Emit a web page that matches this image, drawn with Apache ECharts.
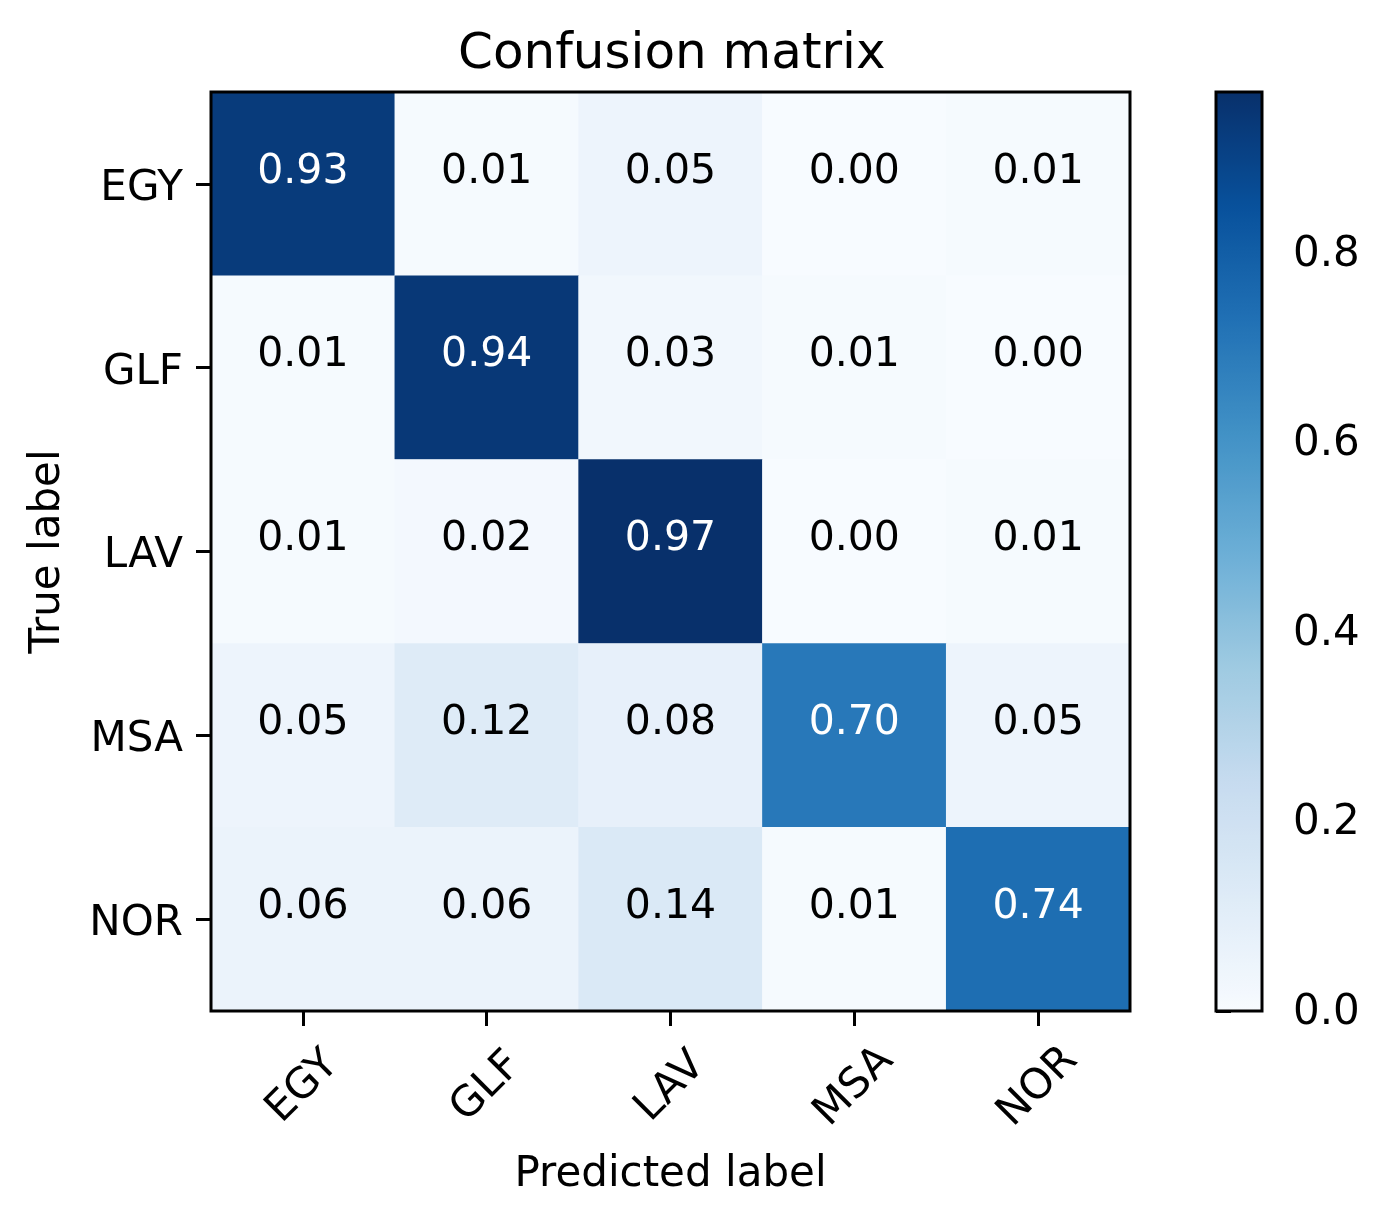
<!DOCTYPE html>
<html>
<head>
<meta charset="utf-8">
<title>Confusion matrix</title>
<script src="https://cdn.jsdelivr.net/npm/echarts@6/dist/echarts.min.js"></script>
<style>
  html, body { margin: 0; padding: 0; background: #fff; }
  #chart { width: 1387px; height: 1225px; }
</style>
</head>
<body>
<div id="chart"></div>
<script>
// class labels (same order on both axes)
const classes = ['EGY', 'GLF', 'LAV', 'MSA', 'NOR']

// normalized confusion matrix, one row per true label
const egyRow = [0.93, 0.01, 0.05, 0.00, 0.01]
const glfRow = [0.01, 0.94, 0.03, 0.01, 0.00]
const lavRow = [0.01, 0.02, 0.97, 0.00, 0.01]
const msaRow = [0.05, 0.12, 0.08, 0.70, 0.05]
const norRow = [0.06, 0.06, 0.14, 0.01, 0.74]
const rows = [egyRow, glfRow, lavRow, msaRow, norRow]

// colorbar range and ticks
const cbMin = 0
const cbMax = 0.97
const cbTicks = [0, 0.2, 0.4, 0.6, 0.8]

// matplotlib "Blues"
const blues = ['#f7fbff', '#deebf7', '#c6dbef', '#9ecae1', '#6baed6',
  '#4292c6', '#2171b5', '#08519c', '#08306b']

const FONT = 'DejaVu Sans'
const thresh = cbMax / 2

const cells = []
rows.forEach((row, i) => {
  row.forEach((v, j) => {
    cells.push({
      value: [j, i, v],
      label: { color: v > thresh ? '#ffffff' : '#000000' }
    })
  })
})

const chart = echarts.init(document.getElementById('chart'))

const option = {
  backgroundColor: '#ffffff',
  animation: false,
  title: {
    text: 'Confusion matrix',
    left: 453,
    top: 25,
    textStyle: { fontFamily: FONT, fontSize: 50, fontWeight: 'normal', color: '#000' }
  },
  grid: [
    {
      left: 211, top: 92, width: 919, height: 919,
      show: true, z: 10, borderColor: '#000', borderWidth: 3,
      backgroundColor: 'transparent'
    },
    {
      left: 1216, top: 92, width: 46, height: 919,
      show: true, z: 10, borderColor: '#000', borderWidth: 3,
      backgroundColor: 'transparent'
    }
  ],
  xAxis: [
    {
      type: 'category',
      gridIndex: 0,
      data: classes,
      position: 'bottom',
      name: 'Predicted label',
      nameLocation: 'middle',
      nameGap: 143,
      nameTextStyle: { fontFamily: FONT, fontSize: 42, color: '#000' },
      axisLine: { show: false },
      axisTick: { show: true, alignWithLabel: true, length: 15, lineStyle: { color: '#000', width: 3 } },
      axisLabel: {
        interval: 0,
        rotate: 45,
        align: 'center',
        verticalAlign: 'middle',
        margin: 76,
        fontFamily: FONT,
        fontSize: 42,
        color: '#000'
      },
      splitLine: { show: false }
    },
    {
      type: 'value',
      gridIndex: 1,
      show: false
    }
  ],
  yAxis: [
    {
      type: 'category',
      gridIndex: 0,
      data: classes,
      inverse: true,
      name: 'True label',
      nameLocation: 'middle',
      nameGap: 142,
      nameRotate: 90,
      nameTextStyle: { fontFamily: FONT, fontSize: 42, color: '#000' },
      axisLine: { show: false },
      axisTick: { show: true, alignWithLabel: true, length: 15, lineStyle: { color: '#000', width: 3 } },
      axisLabel: {
        margin: 28,
        formatter: v => '{t|' + v + '}',
        rich: {
          t: { padding: [10, 0, 0, 0], fontFamily: FONT, fontSize: 42, color: '#000' }
        }
      },
      splitLine: { show: false }
    },
    {
      type: 'value',
      gridIndex: 1,
      position: 'right',
      min: cbMin,
      max: cbMax,
      axisLine: { show: false },
      axisTick: {
        show: true,
        customValues: cbTicks,
        length: 15,
        lineStyle: { color: '#000', width: 3 }
      },
      axisLabel: {
        customValues: cbTicks,
        margin: 31,
        formatter: v => '{t|' + v.toFixed(1) + '}',
        rich: {
          t: { padding: [4, 0, 0, 0], fontFamily: FONT, fontSize: 42, color: '#000' }
        }
      },
      splitLine: { show: false }
    }
  ],
  visualMap: {
    type: 'continuous',
    seriesIndex: 0,
    dimension: 2,
    min: cbMin,
    max: cbMax,
    calculable: false,
    orient: 'vertical',
    left: 1216,
    top: 92,
    padding: 0,
    itemWidth: 46,
    itemHeight: 919,
    text: null,
    showLabel: false,
    inRange: { color: blues }
  },
  series: [
    {
      type: 'heatmap',
      xAxisIndex: 0,
      yAxisIndex: 0,
      data: cells,
      label: {
        show: true,
        fontFamily: FONT,
        fontSize: 41,
        offset: [0, -12],
        formatter: p => p.value[2].toFixed(2)
      },
      emphasis: { disabled: true }
    }
  ]
}

chart.setOption(option)
</script>
</body>
</html>
